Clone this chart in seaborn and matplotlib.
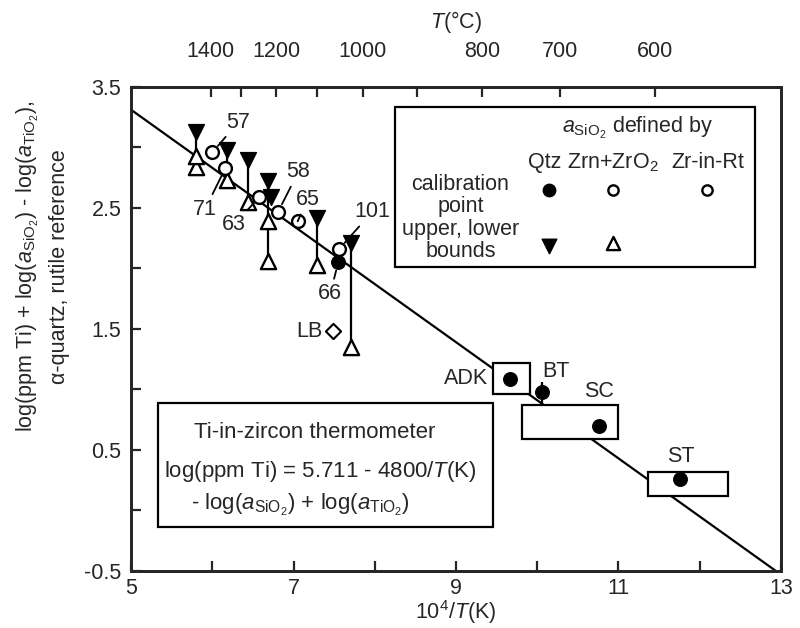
import matplotlib
matplotlib.use("Agg")
import matplotlib.pyplot as plt
import numpy as np
import pandas as pd
import seaborn as sns
from matplotlib.patches import Rectangle

# --- Ti-in-zircon calibration: log(ppm Ti) = 5.711 - 4800/T(K) ---
INTERCEPT = 5.711
SLOPE = -0.48          # per unit of 10^4/T
line_x = [5.0, 13.0]
line_y = [INTERCEPT + SLOPE * v for v in line_x]

# experiments with aSiO2 from Zrn+ZrO2 (open circles)
zrn_x = [6.00, 6.16, 6.58, 6.81, 7.05, 7.56]
zrn_y = [2.96, 2.83, 2.59, 2.47, 2.39, 2.16]
zrn_lab = ["57", "71", "63", "58", "65", "101"]
zrn_lab_x = [6.32, 5.91, 6.26, 7.06, 7.17, 7.97]
zrn_lab_y = [3.21, 2.49, 2.36, 2.80, 2.57, 2.47]

# calibration points with quartz (filled circles)
qtz_x = [7.55, 9.67, 10.06, 10.76, 11.76]
qtz_y = [2.05, 1.09, 0.98, 0.70, 0.26]

# bracketing experiments: upper (filled) and lower (open) bounds
bnd_x = [5.80, 6.18, 6.44, 6.68, 7.29, 7.71]
bnd_hi = [3.13, 2.98, 2.90, 2.72, 2.42, 2.21]
bnd_lo = [2.84, 2.73, 2.55, 2.06, 2.03, 1.35]
extra_lo_x = [5.80, 6.68]
extra_lo_y = [2.93, 2.39]
extra_hi_x = [6.72]
extra_hi_y = [2.59]

# natural zircons: boxes of uncertainty
nat_names = ["ADK", "SC", "ST"]
nat_xlo = [9.45, 9.81, 11.36]
nat_xhi = [9.91, 11.00, 12.35]
nat_ylo = [0.96, 0.59, 0.12]
nat_yhi = [1.22, 0.87, 0.32]
bt_x, bt_lo, bt_hi = 10.06, 0.88, 1.06

# Lake B (diamond)
lb_x, lb_y = [7.48], [1.48]

# top axis temperatures (deg C)
top_T = [1400, 1300, 1200, 1100, 1000, 900, 800, 700, 600]
top_T_lab = ["1400", "", "1200", "", "1000", "", "800", "700", "600"]

sns.set_theme(style="ticks")
plt.rcParams["font.family"] = ["Liberation Sans", "DejaVu Sans"]
plt.rcParams["mathtext.fontset"] = "custom"
plt.rcParams["mathtext.rm"] = "Liberation Sans"
plt.rcParams["mathtext.it"] = "Liberation Sans:italic"
plt.rcParams["mathtext.bf"] = "Liberation Sans:bold"

FS = 15.5
fig = plt.figure(figsize=(8, 6.28), dpi=100)
ax = fig.add_axes([0.164, 0.0908, 0.812, 0.7707])

ax.set_xlim(5, 13)
ax.set_ylim(-0.5, 3.5)

sns.lineplot(x=line_x, y=line_y, ax=ax, color="black", lw=1.6, zorder=2)

# bound connectors
ax.vlines(bnd_x, bnd_lo, bnd_hi, color="black", lw=1.6, zorder=2)
ax.vlines([bt_x], [bt_lo], [bt_hi], color="black", lw=1.6, zorder=2)

for xl, xh, yl, yh in zip(nat_xlo, nat_xhi, nat_ylo, nat_yhi):
    ax.add_patch(Rectangle((xl, yl), xh - xl, yh - yl, facecolor="white",
                           edgecolor="black", lw=1.6, zorder=3))

lo_df = pd.DataFrame({"x": bnd_x + extra_lo_x, "y": bnd_lo + extra_lo_y})
hi_df = pd.DataFrame({"x": bnd_x + extra_hi_x, "y": bnd_hi + extra_hi_y})

sns.scatterplot(data=lo_df, x="x", y="y", ax=ax, marker="^", s=120,
                color="white", edgecolor="black", linewidth=1.7, zorder=4)
sns.scatterplot(data=hi_df, x="x", y="y", ax=ax, marker="v", s=130,
                color="black", edgecolor="black", linewidth=1, zorder=4)
sns.scatterplot(x=qtz_x, y=qtz_y, ax=ax, marker="o", s=95,
                color="black", edgecolor="black", linewidth=1, zorder=5)
sns.scatterplot(x=zrn_x, y=zrn_y, ax=ax, marker="o", s=85,
                color="white", edgecolor="black", linewidth=1.7, zorder=6)
sns.scatterplot(x=lb_x, y=lb_y, ax=ax, marker="D", s=60,
                color="white", edgecolor="black", linewidth=1.5, zorder=6)

# sample labels with leaders
for lab, px, py, tx, ty in zip(zrn_lab, zrn_x, zrn_y, zrn_lab_x, zrn_lab_y):
    ax.annotate(lab, xy=(px, py), xytext=(tx, ty), ha="center", va="center",
                fontsize=FS, zorder=7,
                arrowprops=dict(arrowstyle="-", color="black", lw=1.3,
                                shrinkA=1, shrinkB=6))
ax.annotate("66", xy=(qtz_x[0], qtz_y[0]), xytext=(7.45, 1.79), ha="center",
            va="center", fontsize=FS, zorder=7,
            arrowprops=dict(arrowstyle="-", color="black", lw=1.3,
                            shrinkA=1, shrinkB=6))
ax.text(lb_x[0] - 0.12, lb_y[0], "LB", ha="right", va="center", fontsize=FS)
ax.text(nat_xlo[0] - 0.06, qtz_y[1], "ADK", ha="right", va="center", fontsize=FS)
ax.text(10.23, 1.15, "BT", ha="center", va="center", fontsize=FS)
ax.text(10.76, 0.98, "SC", ha="center", va="center", fontsize=FS)
ax.text(11.77, 0.45, "ST", ha="center", va="center", fontsize=FS)

# axes styling
ax.set_xticks([5, 6, 7, 8, 9, 10, 11, 12, 13])
ax.set_xticklabels(["5", "", "7", "", "9", "", "11", "", "13"])
ax.set_yticks([-0.5, 0, 0.5, 1, 1.5, 2, 2.5, 3, 3.5])
ax.set_yticklabels(["-0.5", "", "0.5", "", "1.5", "", "2.5", "", "3.5"])
ax.tick_params(direction="in", length=7, width=1.6, labelsize=FS, pad=7)
ax.tick_params(axis="x", pad=5)
for s in ax.spines.values():
    s.set_linewidth(2.0)
    s.set_visible(True)
ax.set_xlabel(r"10$^4$/$T$(K)", fontsize=FS, labelpad=-0.5)
ax.set_ylabel("")

top = ax.twiny()
top.set_xlim(ax.get_xlim())
top.set_xticks([1e4 / (t + 273.15) for t in top_T])
top.set_xticklabels(top_T_lab)
top.tick_params(direction="in", length=7, width=1.6, labelsize=FS, pad=18)
top.set_xlabel(r"$T$(°C)", fontsize=FS, labelpad=9)
for s in top.spines.values():
    s.set_linewidth(2.0)

fig.text(0.035, 0.576, r"log(ppm Ti) + log($a_{\mathrm{SiO_2}}$) - log($a_{\mathrm{TiO_2}}$),",
         rotation=90, ha="center", va="center", fontsize=FS)
fig.text(0.074, 0.576, "α-quartz, rutile reference", rotation=90,
         ha="center", va="center", fontsize=FS)

# key box
T = ax.transAxes
ax.add_patch(Rectangle((0.406, 0.628), 0.554, 0.331, transform=T,
                       facecolor="white", edgecolor="black", lw=1.6, zorder=8))
ax.text(0.78, 0.915, r"$a_{\mathrm{SiO_2}}$ defined by", transform=T,
        ha="center", va="center", fontsize=FS, zorder=9)
ax.text(0.637, 0.843, "Qtz", transform=T, ha="center", va="center", fontsize=FS, zorder=9)
ax.text(0.742, 0.843, r"Zrn+ZrO$_2$", transform=T, ha="center", va="center", fontsize=FS, zorder=9)
ax.text(0.888, 0.843, "Zr-in-Rt", transform=T, ha="center", va="center", fontsize=FS, zorder=9)
ax.text(0.507, 0.775, "calibration\npoint", transform=T, ha="center", va="center",
        fontsize=FS, linespacing=1.05, zorder=9)
ax.text(0.507, 0.682, "upper, lower\nbounds", transform=T, ha="center", va="center",
        fontsize=FS, linespacing=1.05, zorder=9)
ax.scatter([0.643], [0.787], transform=T, marker="o", s=80, c="black", zorder=9)
ax.scatter([0.742, 0.886], [0.787, 0.787], transform=T, marker="o", s=55,
           facecolors="white", edgecolors="black", linewidths=1.7, zorder=9)
ax.scatter([0.643], [0.672], transform=T, marker="v", s=110, c="black", zorder=9)
ax.scatter([0.742], [0.678], transform=T, marker="^", s=90,
           facecolors="white", edgecolors="black", linewidths=1.7, zorder=9)

# equation box
ax.add_patch(Rectangle((0.0415, 0.091), 0.5155, 0.256, transform=T,
                       facecolor="white", edgecolor="black", lw=1.6, zorder=8))
ax.text(0.283, 0.287, "Ti-in-zircon thermometer", transform=T, ha="center",
        va="center", fontsize=FS + 0.5, zorder=9)
ax.text(0.291, 0.205, r"log(ppm Ti) = 5.711 - 4800/$T$(K)", transform=T,
        ha="center", va="center", fontsize=FS + 0.5, zorder=9)
ax.text(0.26, 0.136, r"- log($a_{\mathrm{SiO_2}}$) + log($a_{\mathrm{TiO_2}}$)",
        transform=T, ha="center", va="center", fontsize=FS + 0.5, zorder=9)

fig.savefig("out.png", dpi=100)
